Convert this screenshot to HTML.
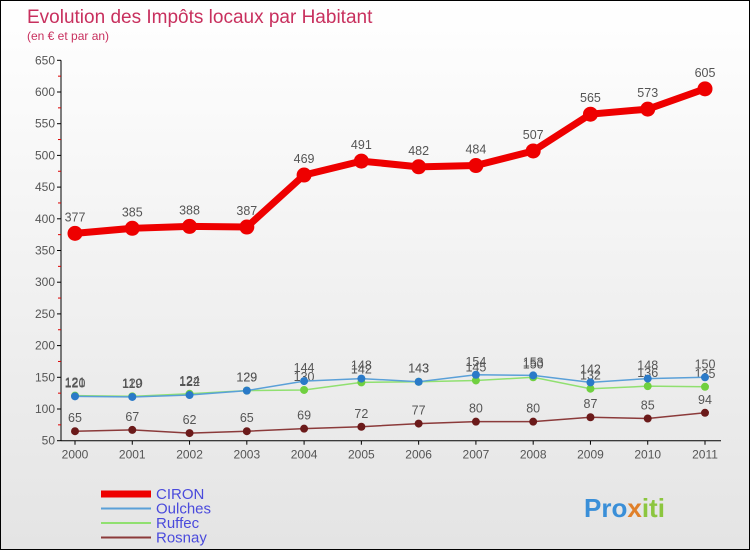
<!DOCTYPE html>
<html><head><meta charset="utf-8"><style>
body{margin:0;}
#c{width:748px;height:548px;border:1px solid #000;background:linear-gradient(#fff,#e4e4e4);position:relative;font-family:"Liberation Sans",sans-serif;}
</style></head><body>
<div id="c">
<svg id="s" width="748" height="548" xmlns="http://www.w3.org/2000/svg">
<text x="26" y="22" font-size="19" fill="#c8305e">Evolution des Impôts locaux par Habitant</text>
<text x="26" y="39" font-size="12" fill="#c8305e">(en € et par an)</text>
<g id="axes"></g><g id="series"></g><g id="legend"></g>
<text x="583" y="516" font-size="26" font-weight="bold" fill="#3a8fd8">Pro<tspan fill="#e0802a">x</tspan><tspan fill="#8cc63f">iti</tspan></text>
</svg></div>
<script>
const years=[2000,2001,2002,2003,2004,2005,2006,2007,2008,2009,2010,2011];
const yTicks=[50,100,150,200,250,300,350,400,450,500,550,600,650];
const seriesNames=["CIRON","Oulches","Ruffec","Rosnay"];
const ciron=[377,385,388,387,469,491,482,484,507,565,573,605];
const oulches=[120,119,122,129,144,148,143,154,153,142,148,150];
const ruffec=[121,120,124,129,130,142,143,145,150,132,136,135];
const rosnay=[65,67,62,65,69,72,77,80,80,87,85,94];
const NS="http://www.w3.org/2000/svg";
const X=i=>74+i*(630/11);
const Y=v=>408-(v-100)*0.634;
function mk(t,a,p){const e=document.createElementNS(NS,t);for(const k in a)e.setAttribute(k,a[k]);p.appendChild(e);return e;}
const ax=document.getElementById('axes');
const yl=mk('line',{x1:60,y1:Y(650),x2:60,y2:Y(50),stroke:'#000'},ax);

const xl=mk('line',{x1:60,y1:Y(50),x2:720,y2:Y(50),stroke:'#000'},ax);

yTicks.forEach(v=>{
 mk('line',{x1:56,y1:Y(v),x2:60,y2:Y(v),stroke:'#000'},ax);
 if(v<650)mk('line',{x1:57,y1:Y(v+25),x2:60,y2:Y(v+25),stroke:'#d00'},ax);
 const t=mk('text',{x:54,y:Y(v)+4,'font-size':12,fill:'#555','text-anchor':'end'},ax);t.textContent=v;
 
});
years.forEach((y,i)=>{
 mk('line',{x1:X(i),y1:Y(50),x2:X(i),y2:Y(50)+4,stroke:'#000'},ax);
 const t=mk('text',{x:X(i),y:Y(50)+18,'font-size':12,fill:'#555','text-anchor':'middle'},ax);t.textContent=y;
 
});
const sg=document.getElementById('series');
const defs=[[rosnay,'#8b3a3a','#6b1a1a',1.5,4,'rosnay'],[ruffec,'#90e070','#70d040',1.5,4,'ruffec'],[oulches,'#5aa0d8','#2a7ac8',1.5,4,'oulches'],[ciron,'#e00','#e00',7,7.5,'ciron']];
defs.forEach(([d,c,mc,w,r,n])=>{
 const p=mk('polyline',{points:d.map((v,i)=>X(i)+','+Y(v)).join(' '),fill:'none',stroke:c,'stroke-width':w},sg);
 
 d.forEach((v,i)=>{
  const m=mk('circle',{cx:X(i),cy:Y(v),r:r,fill:mc},sg);
  
  const t=mk('text',{x:X(i),y:Y(v)-(n==='ciron'?12:9),'font-size':12.5,fill:'#555','text-anchor':'middle'},sg);t.textContent=v;
  
 });
});
const lg=document.getElementById('legend');
const lc=[['#e00',7],['#5aa0d8',2],['#90e070',2],['#8b3a3a',2]];
seriesNames.forEach((n,i)=>{
 const y=493+i*14.5;
 const l=mk('line',{x1:100,y1:y,x2:150,y2:y,stroke:lc[i][0],'stroke-width':lc[i][1]},lg);
 
 const t=mk('text',{x:155,y:y+5,'font-size':15,fill:'#4a4adc'},lg);t.textContent=n;
 
});
</script>
</body></html>
